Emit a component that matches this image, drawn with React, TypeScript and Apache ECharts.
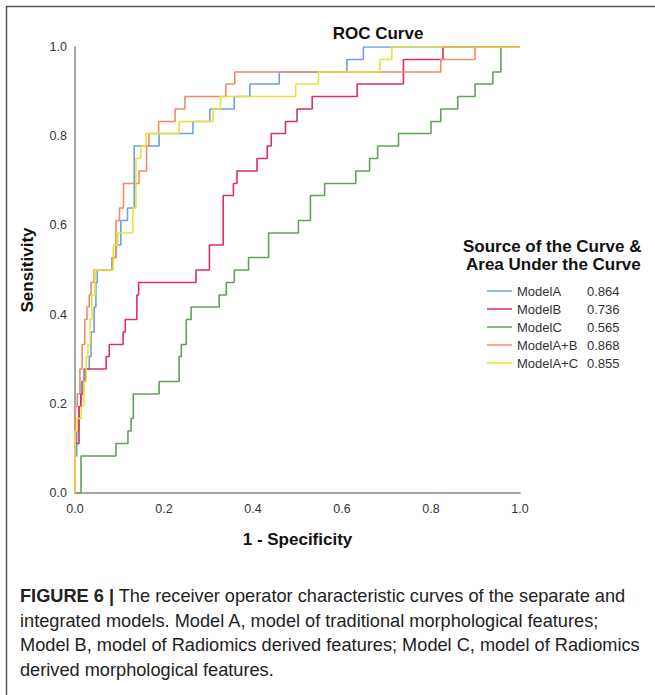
import React, { useEffect, useRef } from "react";
import * as echarts from "echarts";

// ROC coordinates (1 - specificity, sensitivity); each point is where a step rises
const modelA_fpr = [0, 0, 0.004, 0.009, 0.014, 0.02, 0.032, 0.036, 0.043, 0.047, 0.05, 0.083, 0.092, 0.103, 0.118, 0.133, 0.189, 0.265, 0.303, 0.358, 0.393, 0.459, 0.611, 0.648, 1];
const modelA_tpr = [0, 0.083, 0.139, 0.194, 0.25, 0.278, 0.306, 0.361, 0.417, 0.472, 0.5, 0.528, 0.556, 0.611, 0.639, 0.778, 0.806, 0.833, 0.861, 0.889, 0.917, 0.944, 0.972, 1, 1];

const modelB_fpr = [0, 0, 0.009, 0.013, 0.018, 0.023, 0.07, 0.077, 0.108, 0.113, 0.139, 0.143, 0.272, 0.302, 0.333, 0.356, 0.364, 0.409, 0.432, 0.441, 0.473, 0.499, 0.533, 0.634, 0.738, 0.827, 1];
const modelB_tpr = [0, 0.111, 0.194, 0.222, 0.25, 0.278, 0.306, 0.333, 0.361, 0.389, 0.444, 0.472, 0.5, 0.556, 0.667, 0.694, 0.722, 0.75, 0.778, 0.806, 0.833, 0.861, 0.889, 0.917, 0.972, 1, 1];

const modelC_fpr = [0, 0.0135, 0.092, 0.119, 0.126, 0.131, 0.189, 0.234, 0.239, 0.25, 0.261, 0.324, 0.34, 0.358, 0.39, 0.435, 0.502, 0.529, 0.561, 0.631, 0.662, 0.68, 0.727, 0.8, 0.822, 0.86, 0.899, 0.939, 0.957, 1];
const modelC_tpr = [0, 0.083, 0.111, 0.139, 0.167, 0.222, 0.25, 0.306, 0.333, 0.389, 0.417, 0.444, 0.472, 0.5, 0.528, 0.583, 0.611, 0.667, 0.694, 0.722, 0.75, 0.778, 0.806, 0.833, 0.861, 0.889, 0.917, 0.944, 1, 1];

const modelAB_fpr = [0, 0, 0.005, 0.011, 0.016, 0.022, 0.027, 0.032, 0.036, 0.043, 0.085, 0.092, 0.1, 0.109, 0.144, 0.161, 0.166, 0.188, 0.225, 0.247, 0.339, 0.359, 0.822, 0.899, 1];
const modelAB_tpr = [0, 0.194, 0.222, 0.278, 0.333, 0.389, 0.417, 0.444, 0.472, 0.5, 0.528, 0.611, 0.639, 0.694, 0.722, 0.778, 0.806, 0.833, 0.861, 0.889, 0.917, 0.944, 0.972, 1, 1];

const modelAC_fpr = [0, 0, 0.005, 0.014, 0.02, 0.025, 0.029, 0.034, 0.038, 0.045, 0.086, 0.096, 0.13, 0.137, 0.148, 0.16, 0.234, 0.31, 0.327, 0.496, 0.547, 0.685, 0.712, 1];
const modelAC_tpr = [0, 0.139, 0.167, 0.194, 0.25, 0.306, 0.333, 0.389, 0.444, 0.5, 0.556, 0.583, 0.639, 0.75, 0.778, 0.806, 0.833, 0.861, 0.889, 0.917, 0.944, 0.972, 1, 1];

const modelNames = ["ModelA", "ModelB", "ModelC", "ModelA+B", "ModelA+C"];
const aucValues = ["0.864", "0.736", "0.565", "0.868", "0.855"];
const modelColors = ["#6f9fdc", "#dc2f62", "#64a05c", "#f4896a", "#e8e23a"];
const axisTicks = [0, 0.2, 0.4, 0.6, 0.8, 1.0];

const captionLines = [
  "The receiver operator characteristic curves of the separate and",
  "integrated models. Model A, model of traditional morphological features;",
  "Model B, model of Radiomics derived features; Model C, model of Radiomics",
  "derived morphological features.",
];

const FONT = 'Arial, "Liberation Sans", Helvetica, sans-serif';

export default function App() {
  const ref = useRef<HTMLDivElement>(null);

  useEffect(() => {
    document.body.style.margin = "0";
    const chart = echarts.init(ref.current!, null, { renderer: "svg" });
    const fprs = [modelA_fpr, modelB_fpr, modelC_fpr, modelAB_fpr, modelAC_fpr];
    const tprs = [modelA_tpr, modelB_tpr, modelC_tpr, modelAB_tpr, modelAC_tpr];

    const series = modelNames.map((name, i) => ({
      name,
      type: "line",
      step: "end",
      showSymbol: false,
      symbol: "none",
      data: fprs[i].map((x, j) => [x, tprs[i][j]]),
      lineStyle: { width: 1.6, color: modelColors[i] },
      itemStyle: { color: modelColors[i] },
      z: 2 + i,
    }));

    const aucMap: Record<string, string> = {};
    modelNames.forEach((n, i) => (aucMap[n] = aucValues[i]));

    const graphics: any[] = [
      {
        type: "rect",
        shape: { x: 6.5, y: 6.5, width: 700, height: 720 },
        style: { fill: "none", stroke: "#555", lineWidth: 1.5 },
        silent: true,
      },
      {
        type: "text",
        x: 378,
        y: 33,
        style: {
          text: "ROC Curve",
          font: `bold 17px ${FONT}`,
          fill: "#111",
          textAlign: "center",
          textVerticalAlign: "middle",
        },
      },
      {
        type: "text",
        x: 463,
        y: 246,
        style: {
          text: "Source of the Curve &",
          font: `bold 17px ${FONT}`,
          fill: "#111",
          textAlign: "left",
          textVerticalAlign: "middle",
        },
      },
      {
        type: "text",
        x: 466,
        y: 264,
        style: {
          text: "Area Under the Curve",
          font: `bold 17px ${FONT}`,
          fill: "#111",
          textAlign: "left",
          textVerticalAlign: "middle",
        },
      },
      {
        type: "text",
        x: 20,
        y: 596,
        style: {
          text: "{b|FIGURE 6 |} " + captionLines[0],
          font: `18.2px ${FONT}`,
          fill: "#222",
          textVerticalAlign: "middle",
          rich: { b: { font: `bold 18.2px ${FONT}`, fill: "#222" } },
        },
      },
      ...captionLines.slice(1).map((t, k) => ({
        type: "text",
        x: 20,
        y: 620.5 + k * 24.5,
        style: {
          text: t,
          font: `18.2px ${FONT}`,
          fill: "#222",
          textVerticalAlign: "middle",
        },
      })),
    ];

    chart.setOption({
      animation: false,
      backgroundColor: "#fff",
      grid: { left: 75, right: 135, top: 47, bottom: 202, containLabel: false },
      xAxis: {
        type: "value",
        min: axisTicks[0],
        max: axisTicks[axisTicks.length - 1],
        interval: 0.2,
        name: "1 - Specificity",
        nameLocation: "middle",
        nameGap: 38,
        nameTextStyle: { fontFamily: FONT, fontWeight: "bold", fontSize: 17, color: "#111" },
        axisLine: { show: true, lineStyle: { color: "#888", width: 1.5 } },
        axisTick: { show: false },
        splitLine: { show: false },
        axisLabel: {
          formatter: (v: number) => v.toFixed(1),
          fontFamily: FONT,
          fontSize: 12.5,
          color: "#333",
          margin: 9,
        },
      },
      yAxis: {
        type: "value",
        min: axisTicks[0],
        max: axisTicks[axisTicks.length - 1],
        interval: 0.2,
        name: "Sensitivity",
        nameLocation: "middle",
        nameGap: 39,
        nameTextStyle: { fontFamily: FONT, fontWeight: "bold", fontSize: 17, color: "#111" },
        axisLine: { show: true, lineStyle: { color: "#888", width: 1.5 } },
        axisTick: { show: false },
        splitLine: { show: false },
        axisLabel: {
          formatter: (v: number) => v.toFixed(1),
          fontFamily: FONT,
          fontSize: 12.5,
          color: "#333",
          margin: 8,
        },
      },
      legend: {
        orient: "vertical",
        left: 482,
        top: 279,
        icon: "rect",
        itemWidth: 25,
        itemHeight: 1.5,
        itemGap: 4,
        selectedMode: false,
        data: modelNames,
        formatter: (name: string) => `{n|${name}}{v|${aucMap[name]}}`,
        textStyle: {
          fontFamily: FONT,
          fontSize: 13,
          color: "#333",
          lineHeight: 14,
          rich: {
            n: { width: 70, fontFamily: FONT, fontSize: 13, color: "#333" },
            v: { fontFamily: FONT, fontSize: 13, color: "#333" },
          },
        },
      },
      graphic: graphics,
      series,
    });

    return () => chart.dispose();
  }, []);

  return <div ref={ref} style={{ width: 655, height: 695 }} />;
}
